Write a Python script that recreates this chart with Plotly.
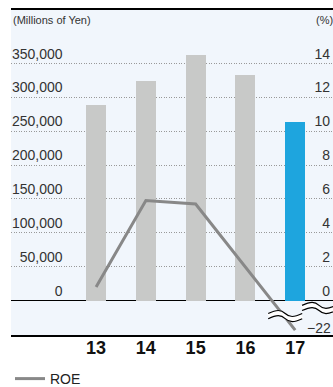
import plotly.graph_objects as go

# Fiscal years (category labels) and values
years = ["13", "14", "15", "16", "17"]
amounts = [288000, 324000, 362000, 333000, 264000]   # millions of yen
roe = [0.8, 5.9, 5.7, 2.0, -22.0]                     # percent

left_ticks = [0, 50000, 100000, 150000, 200000, 250000, 300000, 350000]
left_ticktext = ["0", "50,000", "100,000", "150,000", "200,000", "250,000", "300,000", "350,000"]
right_ticks = [0, 2, 4, 6, 8, 10, 12, 14]

BAR_GREY = "#c8c9c8"
BAR_BLUE = "#1ea5de"
LINE_GREY = "#888888"
BG = "#f1f6fc"
FONT = "Liberation Sans Narrow, Arial Narrow, Liberation Sans, Arial, sans-serif"
NUM_FONT = "Liberation Sans, Arial, sans-serif"

# Primary axis: yen; secondary axis: percent (14% lines up with 350,000)
Y_RANGE = [-50940, 428950]
RATIO = 25000
Y2_RANGE = [Y_RANGE[0] / RATIO, Y_RANGE[1] / RATIO]

# Negative ROE values are drawn in the compressed band under the zero line
BREAK_VALUE = -22.0
BREAK_DISPLAY = -1.75


def to_display(v):
    return v if v >= 0 else v * (BREAK_DISPLAY / BREAK_VALUE)


idx = list(range(len(years)))
bar_colors = [BAR_GREY] * (len(years) - 1) + [BAR_BLUE]

fig = go.Figure()
fig.add_trace(go.Bar(
    x=idx, y=amounts, marker=dict(color=bar_colors, line=dict(width=0)),
    width=0.4, showlegend=False, hoverinfo="skip",
))
fig.add_trace(go.Scatter(
    x=idx, y=[to_display(v) for v in roe], yaxis="y2", mode="lines",
    line=dict(color=LINE_GREY, width=3), name="ROE",
    customdata=roe, hovertemplate="%{customdata}%<extra></extra>",
))


def wave_path(half, amp, dy):
    return (f"M{-half},{dy} C{-half / 2},{dy + amp} {-half / 4},{dy + amp} 0,{dy} "
            f"S{half / 2},{dy - amp} {half},{dy}")


def break_mark(xc, yc, half):
    common = dict(type="path", xref="x", yref="y2", xsizemode="pixel", ysizemode="pixel",
                  xanchor=xc, yanchor=yc, layer="above")
    return [
        dict(path=wave_path(half, 4, 0), line=dict(color="white", width=5), **common),
        dict(path=wave_path(half, 4, 2.6), line=dict(color="black", width=1.2), **common),
        dict(path=wave_path(half, 4, -2.6), line=dict(color="black", width=1.2), **common),
    ]


shapes = break_mark(3.80, -0.92, 17) + break_mark(4.48, -0.44, 17)

fig.update_layout(
    width=333, height=387,
    margin=dict(l=11, r=0, t=10, b=52),
    paper_bgcolor="white", plot_bgcolor=BG,
    font=dict(family=FONT, color="#333333"),
    bargap=0,
    xaxis=dict(
        range=[-1.71, 4.76], tickvals=idx, ticktext=years,
        showline=True, mirror=True, linecolor="black", linewidth=1.5,
        showgrid=False, zeroline=False, ticks="", ticklabelstandoff=-4,
        tickfont=dict(family=FONT, size=18, color="#111111", weight="bold"),
    ),
    yaxis=dict(
        range=Y_RANGE, tickvals=left_ticks, ticktext=left_ticktext,
        anchor="free", position=0.16, side="left",
        showgrid=True, gridcolor="#999999", griddash="1px,1.5px", gridwidth=1,
        zeroline=True, zerolinecolor="black", zerolinewidth=1.3,
        showline=False, ticks="", ticklabelposition="outside top",
        tickfont=dict(family=NUM_FONT, size=14, color="#333333"),
    ),
    yaxis2=dict(
        range=Y2_RANGE, tickvals=right_ticks, overlaying="y", side="right",
        ticklabelposition="inside top", showgrid=False, zeroline=False, showline=False,
        ticks="",
        tickfont=dict(family=NUM_FONT, size=14, color="#333333"),
    ),
    legend=dict(
        orientation="h", xref="container", yref="container",
        x=0.03, xanchor="left", y=1 - 379 / 387, yanchor="middle",
        bgcolor="rgba(0,0,0,0)", font=dict(family=FONT, size=14, color="#222222"),
    ),
    shapes=shapes,
    annotations=[
        dict(text="(Millions of Yen)", xref="paper", yref="paper", x=0, y=0.969,
             xanchor="left", yanchor="middle", showarrow=False,
             font=dict(family=FONT, size=11, color="#333333")),
        dict(text="(%)", xref="paper", yref="paper", x=1, y=0.969, xshift=2,
             xanchor="right", yanchor="middle", showarrow=False,
             font=dict(family=FONT, size=11, color="#333333")),
        dict(text="\u221222", xref="paper", yref="y2", x=1, y=BREAK_DISPLAY, yshift=2,
             xanchor="right", yanchor="middle", showarrow=False,
             font=dict(family=NUM_FONT, size=14, color="#333333")),
    ],
)

fig.write_html("out.html")
